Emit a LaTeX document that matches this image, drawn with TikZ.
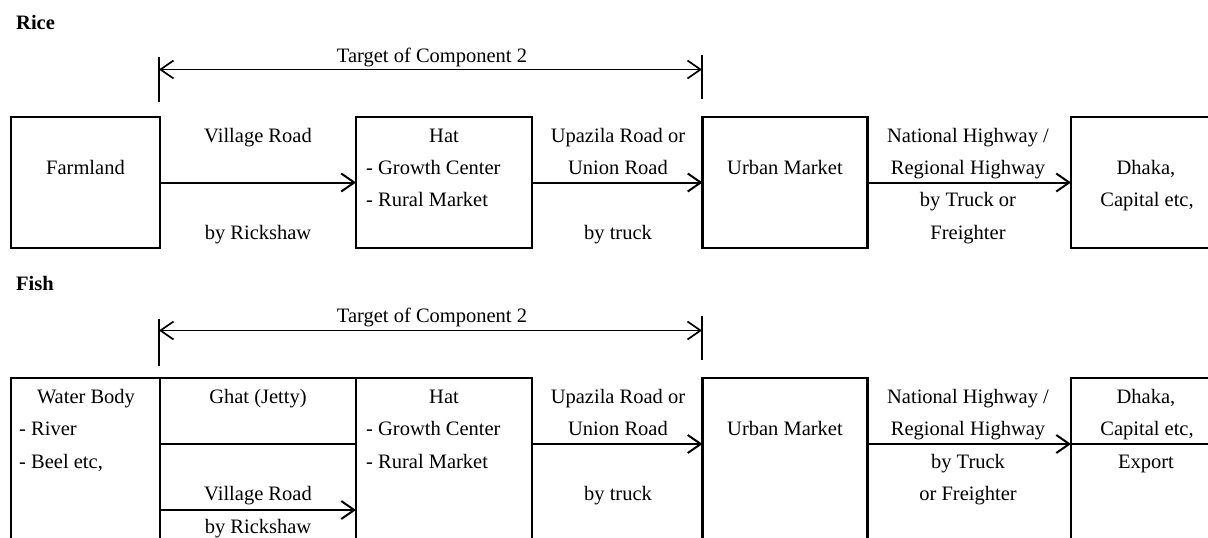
\documentclass[tikz,border=0pt]{standalone}
\usepackage{fontspec}
\setmainfont{Liberation Serif}
\usetikzlibrary{arrows.meta}
\newcommand{\dfs}{\fontsize{20.5}{24}\selectfont}
\tikzset{
  box/.style={draw, line width=2.4pt, inner sep=0pt, outer sep=0pt, minimum height=#1},
  txt/.style={font=\dfs, inner sep=0pt, anchor=base},
  ltxt/.style={font=\dfs, inner sep=0pt, anchor=base west},
  head/.style={font=\dfs\bfseries, inner sep=0pt, anchor=base west},
  arr/.style={line width=2pt, -{Straight Barb[length=13pt,width=18pt]}},
  rng/.style={line width=1.7pt, {Straight Barb[length=13pt,width=18pt]}-{Straight Barb[length=13pt,width=18pt]}},
  tickln/.style={line width=2.4pt},
  sepln/.style={line width=2.4pt}
}
\begin{document}
\begin{tikzpicture}[x=1pt,y=-1pt]
\useasboundingbox (0,0) rectangle (1208,538);
\clip (0,0) rectangle (1208,538);
\fill[white] (0,0) rectangle (1208,538);

% ---------------- Rice ----------------
\node[head] (rice) at (16,29.5) {Rice};
\coordinate (rTL) at (159,69.5);
\coordinate (rTR) at (702,69.5);
\draw[tickln] (159,57) -- (159,102);
\draw[tickln] (702,55) -- (702,99);
\draw[rng] (rTL) -- (rTR);
\node[txt] (rtarget) at (432,62) {Target of Component 2};

\node[box=131pt, minimum width=149pt] (farm) at (85.5,182.5) {};
\node[box=131pt, minimum width=176pt] (hat) at (444,182.5) {};
\node[box=131pt, minimum width=165pt] (urban) at (785,182.5) {};
\node[box=131pt, minimum width=169pt] (dhaka) at (1155.5,182.5) {};

\draw[arr] (farm.east) -- (hat.west);
\draw[arr] (hat.east) -- (urban.west);
\draw[arr] (urban.east) -- (dhaka.west);

\node[txt] (r1) at (85.5,174) {Farmland};
\node[txt] (r2) at (258,142) {Village Road};
\node[txt] (r3) at (258,239) {by Rickshaw};
\node[txt] (r4) at (444,142) {Hat};
\node[ltxt] (r5) at (366,174) {- Growth Center};
\node[ltxt] (r6) at (366,206.5) {- Rural Market};
\node[txt] (r7) at (618,142) {Upazila Road or};
\node[txt] (r8) at (618,174) {Union Road};
\node[txt] (r9) at (618,239) {by truck};
\node[txt] (r10) at (785,174) {Urban Market};
\node[txt] (r11) at (968,142) {National Highway /};
\node[txt] (r12) at (968,174) {Regional Highway};
\node[txt] (r13) at (968,206.5) {by Truck or};
\node[txt] (r14) at (968,239) {Freighter};
\node[txt] (r15) at (1146,174.5) {Dhaka,};
\node[txt] (r16) at (1147,206) {Capital etc,};

% ---------------- Fish ----------------
\node[head] (fish) at (16,290) {Fish};
\coordinate (fTL) at (159,330.5);
\coordinate (fTR) at (702,330.5);
\draw[tickln] (159,319) -- (159,366);
\draw[tickln] (702,316) -- (702,360);
\draw[rng] (fTL) -- (fTR);
\node[txt] (ftarget) at (432,322.5) {Target of Component 2};

\node[box=200pt, minimum width=149pt] (waterF) at (85.5,478) {};
\node[box=66pt, minimum width=196pt] (ghatF) at (258,411) {};
\node[box=200pt, minimum width=176pt] (hatF) at (444,478) {};
\node[box=200pt, minimum width=165pt] (urbanF) at (785,478) {};
\node[box=200pt, minimum width=169pt] (dhakaF) at (1155.5,478) {};

\coordinate (vF) at (258,510);
\draw[arr] (waterF.east |- vF) -- (hatF.west |- vF);
\draw[arr] (hatF.east |- ghatF.south) -- (urbanF.west |- ghatF.south);
\draw[arr] (urbanF.east |- ghatF.south) -- (dhakaF.west |- ghatF.south);
\draw[sepln] (dhakaF.west |- ghatF.south) -- (dhakaF.east |- ghatF.south);

\node[txt] (f1) at (86,403) {Water Body};
\node[ltxt] (f2) at (19,435.5) {- River};
\node[ltxt] (f3) at (19,468) {- Beel etc,};
\node[txt] (f4) at (258,403) {Ghat (Jetty)};
\node[txt] (f5) at (258,500.5) {Village Road};
\node[txt] (f6) at (258,533) {by Rickshaw};
\node[txt] (f7) at (444,403) {Hat};
\node[ltxt] (f8) at (366,435.5) {- Growth Center};
\node[ltxt] (f9) at (366,468) {- Rural Market};
\node[txt] (f10) at (618,403) {Upazila Road or};
\node[txt] (f11) at (618,435.5) {Union Road};
\node[txt] (f12) at (618,500.5) {by truck};
\node[txt] (f13) at (785,435.5) {Urban Market};
\node[txt] (f14) at (968,403) {National Highway /};
\node[txt] (f15) at (968,435.5) {Regional Highway};
\node[txt] (f16) at (968,468) {by Truck};
\node[txt] (f17) at (968,500.5) {or Freighter};
\node[txt] (f18) at (1146,403) {Dhaka,};
\node[txt] (f19) at (1147,435.5) {Capital etc,};
\node[txt] (f20) at (1146,468) {Export};
\end{tikzpicture}
\end{document}
